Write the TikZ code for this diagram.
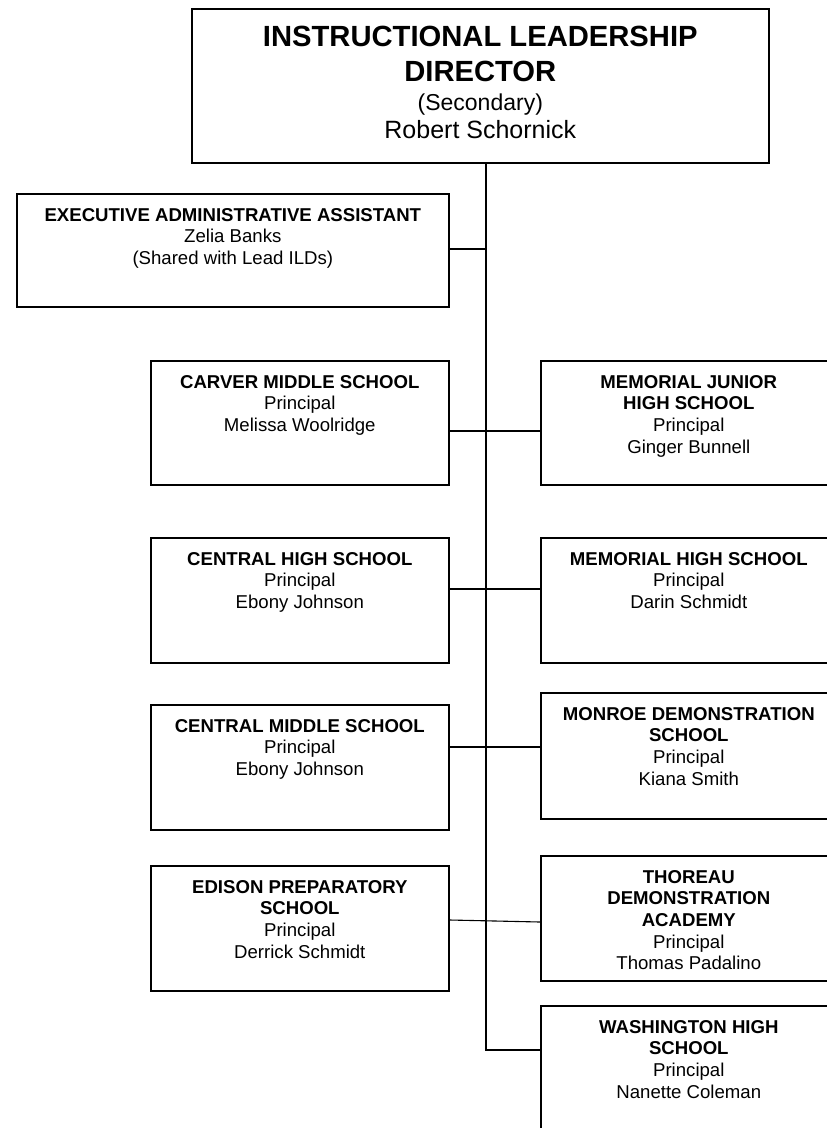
\documentclass[tikz,border=0pt]{standalone}
\usepackage{fontspec}
\setmainfont{Liberation Sans}
\usetikzlibrary{positioning}

\newcommand{\orgtext}[3]{\parbox[c][#2][t]{#1}{\centering\fontsize{18.6}{21.6}\selectfont\rule{0pt}{27.5pt}#3}}

\begin{document}
\begin{tikzpicture}[x=1pt,y=-1pt,
    orgbox/.style={draw,line width=1.6pt,inner sep=0pt,anchor=north west},
    link/.style={line width=1.6pt},
    thinlink/.style={line width=1.1pt}]
  \useasboundingbox (0,0) rectangle (827,1128);
  \clip (0,0) rectangle (827,1128);
  \fill[white] (0,0) rectangle (827,1128);

  % Director
  \node[orgbox] (ild) at (191,8) {\parbox[c][154pt][t]{577pt}{\centering
    {\bfseries\fontsize{29.2}{35}\selectfont\rule{0pt}{38pt}INSTRUCTIONAL LEADERSHIP\\DIRECTOR\par}
    {\fontsize{23}{29}\selectfont (Secondary)\par}
    {\fontsize{25}{28}\selectfont Robert Schornick\par}}};
  \node[orgbox] (eaa) at (16,193) {\orgtext{432pt}{113pt}{\textbf{EXECUTIVE ADMINISTRATIVE ASSISTANT}\\Zelia Banks\\(Shared with Lead ILDs)}};

  % Schools, left column
  \node[orgbox] (carver) at (150,360) {\orgtext{298pt}{124pt}{\textbf{CARVER MIDDLE SCHOOL}\\Principal\\Melissa Woolridge}};
  \node[orgbox] (centralhs) at (150,537) {\orgtext{298pt}{125pt}{\textbf{CENTRAL HIGH SCHOOL}\\Principal\\Ebony Johnson}};
  \node[orgbox] (centralms) at (150,704) {\orgtext{298pt}{125pt}{\textbf{CENTRAL MIDDLE SCHOOL}\\Principal\\Ebony Johnson}};
  \node[orgbox] (edison) at (150,865) {\orgtext{298pt}{125pt}{\textbf{EDISON PREPARATORY\\SCHOOL}\\Principal\\Derrick Schmidt}};

  % Schools, right column
  \node[orgbox] (memjr) at (540,360) {\orgtext{296pt}{124pt}{\textbf{MEMORIAL JUNIOR\\HIGH SCHOOL}\\Principal\\Ginger Bunnell}};
  \node[orgbox] (memhs) at (540,537) {\orgtext{296pt}{125pt}{\textbf{MEMORIAL HIGH SCHOOL}\\Principal\\Darin Schmidt}};
  \node[orgbox] (monroe) at (540,692) {\orgtext{296pt}{126pt}{\textbf{MONROE DEMONSTRATION\\SCHOOL}\\Principal\\Kiana Smith}};
  \node[orgbox] (thoreau) at (540,855) {\orgtext{296pt}{125pt}{\textbf{THOREAU\\DEMONSTRATION\\ACADEMY}\\Principal\\Thomas Padalino}};
  \node[orgbox] (wash) at (540,1005) {\orgtext{296pt}{125pt}{\textbf{WASHINGTON HIGH\\SCHOOL}\\Principal\\Nanette Coleman}};

  % Trunk joints
  \coordinate (j1) at (486,249);
  \coordinate (j2) at (486,431);
  \coordinate (j3) at (486,589);
  \coordinate (j4) at (486,747);
  \coordinate (j5) at (486,921);
  \coordinate (j6) at (486,1050);

  % Lines
  \draw[link] (ild.south -| j1) -- (j6) -- (wash.west |- j6);
  \draw[link] (eaa.east |- j1) -- (j1);
  \draw[link] (carver.east |- j2) -- (memjr.west |- j2);
  \draw[link] (centralhs.east |- j3) -- (memhs.west |- j3);
  \draw[link] (centralms.east |- j4) -- (monroe.west |- j4);
  \draw[thinlink] ([yshift=1pt]edison.east |- j5) -- ([yshift=-1pt]thoreau.west |- j5);
\end{tikzpicture}
\end{document}
